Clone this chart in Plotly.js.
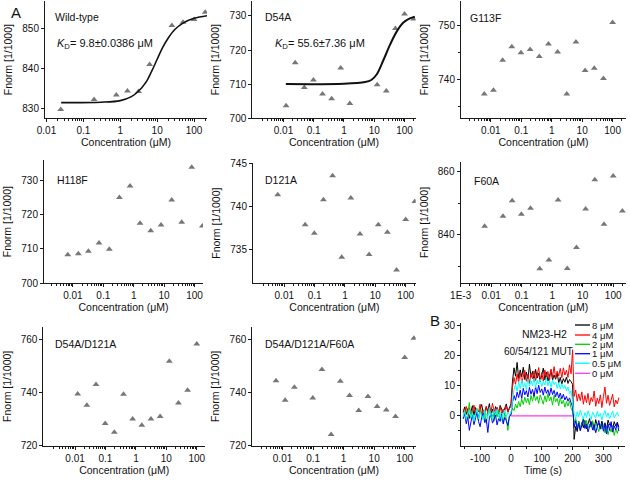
<!DOCTYPE html>
<html><head><meta charset="utf-8">
<script src="https://cdn.plot.ly/plotly-3.0.1.min.js"></script>
<style>html,body{margin:0;padding:0;background:#fff}#c{width:630px;height:481px}</style>
</head><body><div id="c"></div>
<script>
// ---------------- data ----------------
const wtConc = [0.0244, 0.195, 0.781, 1.5625, 3.125, 6.25, 25, 50, 100, 200];
const wtF    = [829.8, 832.3, 833.4, 834.4, 834.3, 841.0, 850.7, 851.5, 852.2, 854.0];
const wtFitConc = [0.025, 0.3, 1, 2, 3, 5, 7, 10, 14, 20, 30, 50, 100, 250];
const wtFitF    = [831.5, 831.6, 832.0, 833.0, 834.2, 836.6, 839.2, 842.3, 845.2, 847.6, 849.7, 851.3, 852.5, 853.2];

const d54aConc = [0.0122, 0.0244, 0.0488, 0.0977, 0.195, 0.391, 0.781, 1.5625, 12.5, 25, 50, 100, 200];
const d54aF    = [703.6, 716.3, 709.0, 711.2, 707.1, 705.7, 714.7, 704.3, 709.8, 708.0, 726.3, 730.6, 729.1];
const d54aFitConc = [0.012, 1, 5, 8, 12, 20, 33, 55, 90, 150, 220];
const d54aFitF    = [710.0, 710.1, 710.6, 711.2, 712.8, 717.0, 721.5, 725.4, 728.0, 729.3, 729.8];

const g113fConc = [0.0061, 0.0122, 0.0244, 0.0488, 0.0977, 0.195, 0.391, 0.781, 1.5625, 3.125, 6.25, 12.5, 25, 50, 100];
const g113fF    = [737.3, 738.0, 743.6, 746.1, 745.0, 745.6, 744.3, 746.6, 745.1, 737.3, 747.0, 741.7, 742.1, 740.2, 750.6];

const h118fConc = [0.0068, 0.0151, 0.0324, 0.0724, 0.158, 0.339, 0.76, 1.62, 3.63, 7.94, 17.8, 38.0, 81.3, 182];
const h118fF    = [708.3, 708.6, 709.3, 711.7, 709.9, 725.0, 728.4, 717.5, 715.3, 717.0, 724.3, 717.8, 733.9, 716.7];

const d121aConc = [0.0061, 0.0488, 0.0977, 0.195, 0.391, 0.781, 1.5625, 3.125, 6.25, 12.5, 25, 50, 100, 200];
const d121aF    = [741.4, 737.9, 736.9, 740.8, 743.6, 734.1, 741.0, 736.8, 734.4, 737.9, 737.0, 732.6, 738.5, 740.6];

const f60aConc = [0.0061, 0.0244, 0.0488, 0.0977, 0.195, 0.391, 0.781, 1.5625, 3.125, 6.25, 12.5, 25, 50, 100, 200];
const f60aF    = [842.8, 845.9, 850.8, 846.6, 848.5, 829.3, 832.1, 851.1, 829.4, 836.0, 848.2, 857.5, 843.4, 858.7, 847.6];

const dmConc = [0.0122, 0.0244, 0.0488, 0.0977, 0.195, 0.391, 0.781, 1.5625, 3.125, 6.25, 12.5, 25, 50, 100];
const dmF    = [739.5, 735.25, 743.0, 728.4, 725.1, 739.4, 730.1, 727.75, 730.1, 731.0, 751.75, 736.1, 740.9, 758.25];

const tmConc = [0.0061, 0.0122, 0.0244, 0.0977, 0.195, 0.391, 0.781, 1.5625, 3.125, 6.25, 12.5, 25, 50, 100, 200];
const tmF    = [744.4, 737.1, 742.0, 738.0, 748.6, 724.25, 744.25, 738.9, 733.25, 738.5, 734.75, 733.5, 731.0, 753.1, 760.4];

const timeS = [-155,-150,-145,-140,-135,-130,-125,-120,-115,-110,-105,-100,-95,-90,-85,-80,-75,-70,-65,-60,-55,-50,-45,-40,-35,-30,-25,-20,-15,-10,-5,
  0,5,10,15,20,25,30,35,40,45,50,55,60,65,70,75,80,85,90,95,100,105,110,115,120,125,130,135,140,145,150,155,160,165,170,175,180,185,190,195,
  200,205,210,215,220,225,230,235,240,245,250,255,260,265,270,275,280,285,290,295,300,305,310,315,320,325,330,335,340,345,350];
const resp8 = [1.2,3.0,0.5,2.4,-0.8,1.9,3.4,0.2,2.8,1.0,-0.5,2.2,3.8,1.1,0.4,2.9,1.6,4.1,0.8,2.3,-0.2,3.1,1.7,0.6,3.5,2.0,0.9,2.6,4.0,1.3,2.8,
  4.0,11.5,16.0,13.2,17.8,12.5,15.3,13.0,16.2,12.1,14.6,11.8,17.2,12.9,14.8,11.5,15.5,12.6,14.2,11.3,13.8,15.9,12.0,14.5,11.6,13.4,15.1,11.9,13.6,12.2,
  14.3,11.0,12.8,10.6,12.4,11.2,12.9,10.8,12.1,11.4,10.5,-7.8,-3.5,-5.2,-1.8,-4.6,-2.2,-3.9,-1.5,-4.3,-2.7,-0.9,-3.6,-2.0,-4.8,-1.2,-3.3,-2.5,-4.1,-1.7,
  -3.8,-2.3,-4.5,-1.4,-3.0,-2.6,-4.2,-1.9,-3.4,-2.1,-3.7];
const resp4 = [2.1,0.4,3.2,1.0,2.7,-0.3,1.8,3.6,0.9,2.4,1.3,3.9,0.2,2.0,1.5,3.3,0.7,2.5,1.1,4.2,1.9,0.5,2.9,1.4,3.0,0.8,2.3,1.6,3.4,1.2,2.6,
  3.0,9.5,12.8,10.4,13.9,11.2,14.6,10.9,13.1,15.2,11.5,13.8,10.7,14.1,12.3,15.0,11.8,13.5,16.1,12.0,14.4,11.6,15.3,12.9,14.8,11.7,15.6,13.0,16.4,12.5,
  14.9,13.3,15.8,12.7,16.0,13.6,15.2,12.8,17.0,14.0,22.0,6.5,8.6,4.9,7.3,5.1,8.0,3.9,6.8,4.4,7.5,3.6,6.1,4.8,8.3,3.2,5.9,4.1,7.0,2.8,
  6.4,9.6,4.2,6.9,3.5,5.6,7.2,3.0,5.3,4.0,6.1];
const resp2 = [-0.5,1.8,-1.2,0.6,4.5,-0.8,1.2,-2.0,0.3,1.5,-1.6,2.2,0.0,-1.0,1.0,-2.5,0.8,1.9,-0.7,0.4,-1.8,1.3,-0.3,2.0,-1.4,0.5,-2.2,1.1,-0.9,-4.8,0.2,
  0.5,2.5,1.8,3.9,2.6,4.8,3.1,5.6,3.8,6.2,4.4,5.9,3.7,6.8,4.9,7.3,5.1,6.5,4.2,7.0,5.5,3.9,6.7,4.6,7.4,5.0,6.3,3.6,6.9,4.7,
  5.8,3.4,6.1,4.0,5.2,2.9,4.8,3.3,5.0,2.6,1.5,-2.3,-0.8,-3.6,-1.9,-4.2,-2.5,-0.6,-3.3,-1.5,-4.0,-2.7,-3.8,-1.6,-4.6,-2.4,-3.5,-5.2,-2.8,-4.4,
  -3.1,-5.6,-3.9,-6.2,-4.1,-5.3,-3.6,-6.5,-4.3,-5.8,-3.9];
const resp1 = [-1.0,0.8,-2.6,-0.3,-4.8,-1.5,0.5,-2.9,-0.8,1.2,-1.9,-3.6,-0.4,0.9,-2.2,-1.1,-5.5,-0.6,0.7,-2.4,-1.3,0.3,-3.0,-0.9,-1.8,0.6,-2.7,-0.5,-1.6,-3.2,-0.2,
  0.2,4.5,6.8,5.2,7.9,6.1,8.6,5.8,9.2,7.0,8.4,6.3,9.5,7.2,8.8,6.6,9.7,7.4,10.2,7.8,9.0,6.9,9.6,7.5,8.7,6.8,9.3,7.1,8.5,6.4,
  8.0,6.0,7.6,5.7,7.2,5.3,6.5,4.9,6.0,4.4,3.0,-3.8,-1.6,-4.5,-2.4,-5.0,-3.1,-1.2,-4.2,-2.6,-5.3,-3.4,-1.8,-4.7,-2.9,-5.6,-3.2,-1.5,-4.4,-2.2,
  -5.1,-3.0,-6.0,-2.7,-4.8,-1.9,-5.4,-3.3,-4.6,-2.5,-5.0];
const resp05 = [-0.3,1.5,-1.2,0.8,2.1,-0.6,1.0,-1.8,0.4,2.5,-0.9,1.3,0.1,-1.4,1.9,0.6,-0.7,2.8,0.0,-1.1,1.6,0.3,2.2,-0.5,1.2,-1.5,0.9,2.0,-0.2,1.1,0.5,
  1.0,6.0,8.8,10.5,8.2,11.4,9.0,12.1,9.6,11.0,8.7,12.4,9.9,11.7,10.1,12.6,9.4,11.9,10.6,12.2,9.8,11.5,10.3,12.8,10.0,11.8,9.5,12.0,10.4,11.3,
  9.2,11.1,8.9,10.7,9.1,10.2,8.3,9.6,7.5,8.4,5.0,0.6,-0.8,1.4,-0.3,1.9,0.2,-1.0,1.1,-0.5,1.7,0.0,-1.2,1.3,0.4,-0.7,1.5,-0.2,0.9,-1.4,
  0.6,1.8,-0.4,1.0,-0.9,0.7,1.6,-0.6,0.3,1.2,-0.1];
const time0 = [0, 200];
const resp0 = [0, 0];

const panelNames = ['Wild-type','D54A','G113F','H118F','D121A','F60A','D54A/D121A','D54A/D121A/F60A'];
const concLabels = ['0.01','0.1','1','10','100'];
const traceNames = ['8 μM','4 μM','2 μM','1 μM','0.5 μM','0 μM'];
const timeTicks = [-100, 0, 100, 200, 300];

// ---------------- layout helpers ----------------
const W = 630, H = 481;
const FONT = 'Liberation Sans, Arial, sans-serif';
const dX = p => p / W, dY = p => 1 - p / H;
const AX = '#1a1a1a';
const minorLog = [];
for (let d = -4; d <= 3; d++) for (let k = 2; k <= 9; k++) minorLog.push(k * Math.pow(10, d));

// panel geometry: [left, right, top, bottom] px ; ranges
const P = [
  {px:[45,207,1,118.3],     xr:[-2.04,2.35], yr:[827.6,856.8], yt:[830,840,850], ym:[]},
  {px:[252.3,415.7,1,118.3],xr:[-3.03,2.37], yr:[699.95,734.4], yt:[700,710,720,730], ym:[]},
  {px:[461,626,1,118.3],    xr:[-2.98,2.44], yr:[732.8,754.6], yt:[740,750], ym:[735,745]},
  {px:[44,203,160,283.3],   xr:[-2.95,2.28], yr:[699.95,736], yt:[700,710,720,730], ym:[]},
  {px:[253,415.7,163,283.3],xr:[-3.03,2.33], yr:[731.05,745.1], yt:[735,740,745], ym:[]},
  {px:[460.5,626,161.7,283.3],xr:[-3.005,2.42], yr:[824.7,863.2], yt:[840,860], ym:[830,850], e3:true},
  {px:[43.4,205,326.7,446], xr:[-3.04,2.27], yr:[719.95,764.7], yt:[720,740,760], ym:[]},
  {px:[252.3,415.7,326.7,446],xr:[-2.99,2.36], yr:[719.95,764.7], yt:[720,740,760], ym:[]},
  {px:[461,625,323.3,446],  xr:[-162,370], yr:[-10,30.8], yt:[0,10,20,30], ym:[-5,5,15,25]}
];

const layout = {
  width: W, height: H, margin:{l:0,r:0,t:0,b:0}, showlegend:false,
  paper_bgcolor:'#fff', plot_bgcolor:'rgba(0,0,0,0)',
  font:{family:FONT, size:10, color:'#111'},
  annotations:[], shapes:[]
};

P.forEach((p, i) => {
  const n = i === 0 ? '' : String(i + 1);
  const isB = i === 8;
  const xa = {
    domain:[dX(p.px[0]), dX(p.px[1])], anchor:'y' + n, range:p.xr,
    type: isB ? 'linear' : 'log', showline:true, linecolor:AX, linewidth:1,
    ticks:'outside', ticklen:3, tickwidth:1, tickcolor:AX, showgrid:false, zeroline:false,
    tickfont:{size:10, family:FONT, color:'#111'},
    title:{text: isB ? 'Time (s)' : 'Concentration (μM)', font:{size:10.5, family:FONT, color:'#111'}, standoff:3}
  };
  if (isB) {
    xa.tickmode = 'array'; xa.tickvals = timeTicks; xa.ticktext = timeTicks.map(String);
    xa.minor = {tickmode:'array', tickvals:[-150,-50,50,150,250,350], ticks:'outside', ticklen:2, tickcolor:AX};
  } else {
    const tv = [0.01,0.1,1,10,100], tt = concLabels.slice();
    if (p.e3) { tv.unshift(0.001); tt.unshift('1E-3'); }
    xa.tickmode = 'array'; xa.tickvals = tv; xa.ticktext = tt;
    xa.minor = {tickmode:'array', tickvals:minorLog, ticks:'outside', ticklen:2, tickcolor:AX};
  }
  const ya = {
    domain:[dY(p.px[3]), dY(p.px[2])], anchor:'x' + n, range:p.yr,
    showline:true, linecolor:AX, linewidth:1, ticks:'outside', ticklen:3, tickcolor:AX,
    showgrid:false, zeroline:false, tickmode:'array', tickvals:p.yt, ticktext:p.yt.map(String),
    tickfont:{size:10, family:FONT, color:'#111'}
  };
  if (!isB) ya.title = {text:'Fnorm [1/1000]', font:{size:10.5, family:FONT, color:'#111'}, standoff:7};
  if (p.ym.length) ya.minor = {tickmode:'array', tickvals:p.ym, ticks:'outside', ticklen:2, tickcolor:AX};
  layout['xaxis' + n] = xa;
  layout['yaxis' + n] = ya;
});

// ---------------- traces ----------------
const mk = {symbol:'triangle-up', size:6, color:'#777777'};
const sets = [[wtConc,wtF],[d54aConc,d54aF],[g113fConc,g113fF],[h118fConc,h118fF],[d121aConc,d121aF],[f60aConc,f60aF],[dmConc,dmF],[tmConc,tmF]];
const traces = [];
sets.forEach((s, i) => {
  const n = i === 0 ? '' : String(i + 1);
  traces.push({x:s[0], y:s[1], mode:'markers', marker:mk, xaxis:'x'+n, yaxis:'y'+n, name:panelNames[i]});
});
traces.push({x:wtFitConc, y:wtFitF, mode:'lines', line:{color:'#111', width:1.6, shape:'spline'}, xaxis:'x', yaxis:'y'});
traces.push({x:d54aFitConc, y:d54aFitF, mode:'lines', line:{color:'#111', width:2, shape:'spline'}, xaxis:'x2', yaxis:'y2'});

const bCols = ['#000000','#ff0000','#00d000','#0000ff','#00ffff','#ff33ff'];
const bData = [resp8, resp4, resp2, resp1, resp05];
bData.forEach((r, k) => traces.push({x:timeS, y:r, mode:'lines', line:{color:bCols[k], width:1}, xaxis:'x9', yaxis:'y9', name:traceNames[k]}));
traces.push({x:time0, y:resp0, mode:'lines', line:{color:bCols[5], width:1.2}, xaxis:'x9', yaxis:'y9', name:traceNames[5]});

// ---------------- annotations ----------------
const A = layout.annotations;
const txt = (x, y, t, size, anchor) => A.push({xref:'paper', yref:'paper', x:dX(x), y:dY(y), text:t, showarrow:false,
  xanchor:anchor || 'left', yanchor:'middle', font:{size:size, family:FONT, color:'#111'}});
txt(9, 12, 'A', 15);
txt(428, 320.5, 'B', 15);
const namePos = [[53,17],[263,17],[468,18],[55,180],[263,180],[472,181],[53,344],[263,344]];
namePos.forEach((q, i) => txt(q[0], q[1], panelNames[i], 10.5));
txt(55, 43.5, '<i>K</i><sub>D</sub>= 9.8±0.0386 μM', 11);
txt(273, 43.5, '<i>K</i><sub>D</sub>= 55.6±7.36 μM', 11);
txt(544, 334, 'NM23-H2', 10.5, 'center');
txt(538, 351.5, '60/54/121 MUT', 10, 'center');
const legY = [325, 335, 344.3, 353.7, 363.3, 373.3];
legY.forEach((y, k) => {
  layout.shapes.push({type:'line', xref:'paper', yref:'paper', x0:dX(575), x1:dX(590), y0:dY(y), y1:dY(y), line:{color:bCols[k], width:1.3}});
  A.push({xref:'paper', yref:'paper', x:dX(591), y:dY(y), text:traceNames[k], showarrow:false, xanchor:'left', yanchor:'middle',
    font:{size:9.5, family:FONT, color:'#111'}, borderpad:0});
});

Plotly.newPlot('c', traces, layout, {staticPlot:true, displayModeBar:false});
</script></body></html>
